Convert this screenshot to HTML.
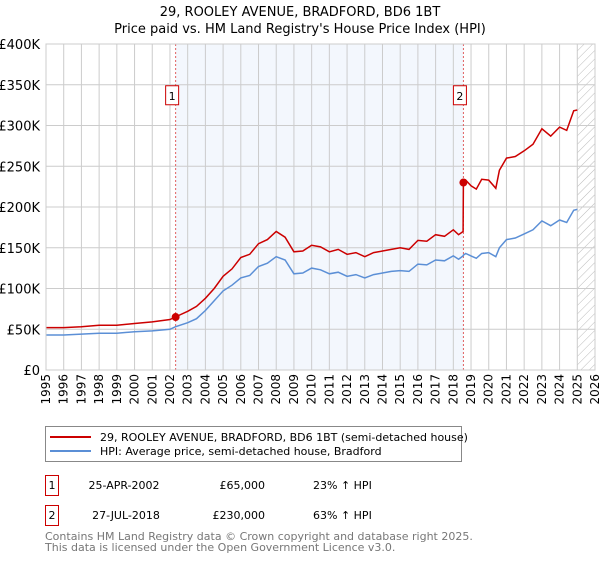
<!DOCTYPE html>
<html><head><meta charset="utf-8"><style>
body{margin:0;background:#fff;font-family:"DejaVu Sans","Liberation Sans",sans-serif;}
svg text{font-family:"DejaVu Sans","Liberation Sans",sans-serif;}
</style></head><body>
<svg id="chart" width="600" height="560" xmlns="http://www.w3.org/2000/svg">
<defs><pattern id="hatch" patternUnits="userSpaceOnUse" width="6" height="6" patternTransform="rotate(45)"><line x1="0" y1="0" x2="0" y2="6" stroke="#bbb" stroke-width="1"/></pattern></defs>
<text x="300" y="16" text-anchor="middle" font-size="13">29, ROOLEY AVENUE, BRADFORD, BD6 1BT</text>
<text x="300" y="33" text-anchor="middle" font-size="13">Price paid vs. HM Land Registry's House Price Index (HPI)</text>
<g id="plot"></g>
<g>
<rect x="45.5" y="426.5" width="416" height="35" fill="#fff" stroke="#888"/>
<line x1="50" y1="437" x2="91" y2="437" stroke="#cc0000" stroke-width="2"/>
<text x="100" y="441" font-size="11">29, ROOLEY AVENUE, BRADFORD, BD6 1BT (semi-detached house)</text>
<line x1="50" y1="451" x2="91" y2="451" stroke="#5b8fd6" stroke-width="2"/>
<text x="100" y="455" font-size="11">HPI: Average price, semi-detached house, Bradford</text>
</g>
<g font-size="11">
<rect x="45.5" y="475.5" width="13" height="20" fill="none" stroke="#cc0000"/>
<text x="52" y="489" text-anchor="middle">1</text>
<text x="124" y="489" text-anchor="middle">25-APR-2002</text>
<text x="265" y="489" text-anchor="end">£65,000</text>
<text x="313" y="489">23% ↑ HPI</text>
<rect x="45.5" y="505.5" width="13" height="20" fill="none" stroke="#cc0000"/>
<text x="52" y="519" text-anchor="middle">2</text>
<text x="126" y="519" text-anchor="middle">27-JUL-2018</text>
<text x="265" y="519" text-anchor="end">£230,000</text>
<text x="313" y="519">63% ↑ HPI</text>
</g>
<g font-size="11" fill="#777">
<text x="45" y="540">Contains HM Land Registry data © Crown copyright and database right 2025.</text>
<text x="45" y="551">This data is licensed under the Open Government Licence v3.0.</text>
</g>
</svg>
<script>
const years=[1995,1996,1997,1998,1999,2000,2001,2002,2002.3,2003,2003.5,2004,2004.5,2005,2005.5,2006,2006.5,2007,2007.5,2008,2008.5,2009,2009.5,2010,2010.5,2011,2011.5,2012,2012.5,2013,2013.5,2014,2014.5,2015,2015.5,2016,2016.5,2017,2017.5,2018,2018.3,2018.55,2018.57,2018.7,2019,2019.3,2019.6,2020,2020.4,2020.6,2021,2021.5,2022,2022.5,2023,2023.5,2024,2024.4,2024.8,2025];
const hpi=[43,43,44,45,45,47,48,50,53,58,63,73,85,97,104,113,116,127,131,139,135,118,119,125,123,118,120,115,117,113,117,119,121,122,121,130,129,135,134,140,136,140,141,143,140,137,143,144,139,150,160,162,167,172,183,177,184,181,196,197];
const price=[52,52,53,55,55,57,59,62,65,72,78,88,100,115,124,138,142,155,160,170,163,145,146,153,151,145,148,142,144,139,144,146,148,150,148,159,158,166,164,172,166,170,230,233,226,222,234,233,223,245,260,262,269,277,296,287,298,294,318,319];
const yTicks=[0,50,100,150,200,250,300,350,400];
const yTickLabels=["£0","£50K","£100K","£150K","£200K","£250K","£300K","£350K","£400K"];
const sales=[[2002.32,65],[2018.57,230]];
const saleLabels=["1","2"];
const X0=46,X1=595,Y0=370,Y1=44;
const x=v=>X0+(v-1995)/(2026-1995)*(X1-X0);
const y=v=>Y0-v/400*(Y0-Y1);
const NS="http://www.w3.org/2000/svg";
const g=document.getElementById('plot');
function mk(t,a){const e=document.createElementNS(NS,t);for(const k in a)e.setAttribute(k,a[k]);g.appendChild(e);return e;}
let r=mk('rect',{x:x(sales[0][0]),y:Y1,width:x(sales[1][0])-x(sales[0][0]),height:Y0-Y1,fill:'#eef3fc',opacity:0.7});


r=mk('rect',{x:x(2025),y:Y1,width:X1-x(2025),height:Y0-Y1,fill:'url(#hatch)'});


for(let yr=1995;yr<=2026;yr++){
 const l=mk('line',{x1:x(yr),x2:x(yr),y1:Y1,y2:Y0,stroke:'#ccc','stroke-width':1});
 
 
 const t=mk('text',{x:0,y:0,'font-size':12,'text-anchor':'end',transform:`translate(${x(yr)+4},${Y0+4}) rotate(-90)`});
 t.textContent=yr;
 
 
}
yTicks.forEach((v,i)=>{
 const l=mk('line',{x1:X0,x2:X1,y1:y(v),y2:y(v),stroke:'#ccc','stroke-width':1});
 
 
 const t=mk('text',{x:40,y:y(v)+5,'font-size':13,'text-anchor':'end'});
 t.textContent=yTickLabels[i];
 
 
});
sales.forEach((s,i)=>{
 const l=mk('line',{x1:x(s[0]),x2:x(s[0]),y1:Y1,y2:Y0,stroke:'#e06060','stroke-dasharray':'2,2','stroke-width':1});
 
 
 const b=mk('rect',{x:x(s[0])-10,y:y(350)+1,width:13,height:19,fill:'#fff',stroke:'#cc0000'});
 
 
 const t=mk('text',{x:x(s[0])-3.5,y:y(350)+15,'font-size':11,'text-anchor':'middle'});
 t.textContent=saleLabels[i];
 
 
});
const pts=(arr)=>arr.map((v,i)=>x(years[i]).toFixed(1)+','+y(v).toFixed(1)).join(' ');
let p=mk('polyline',{points:pts(hpi),fill:'none',stroke:'#5b8fd6','stroke-width':1.5});


p=mk('polyline',{points:pts(price),fill:'none',stroke:'#cc0000','stroke-width':1.5});


sales.forEach(s=>{
 const c=mk('circle',{cx:x(s[0]),cy:y(s[1]),r:4,fill:'#cc0000'});
 
 
});
const f=mk('rect',{x:X0,y:Y1,width:X1-X0,height:Y0-Y1,fill:'none',stroke:'#ccc'});


</script>
</body></html>
